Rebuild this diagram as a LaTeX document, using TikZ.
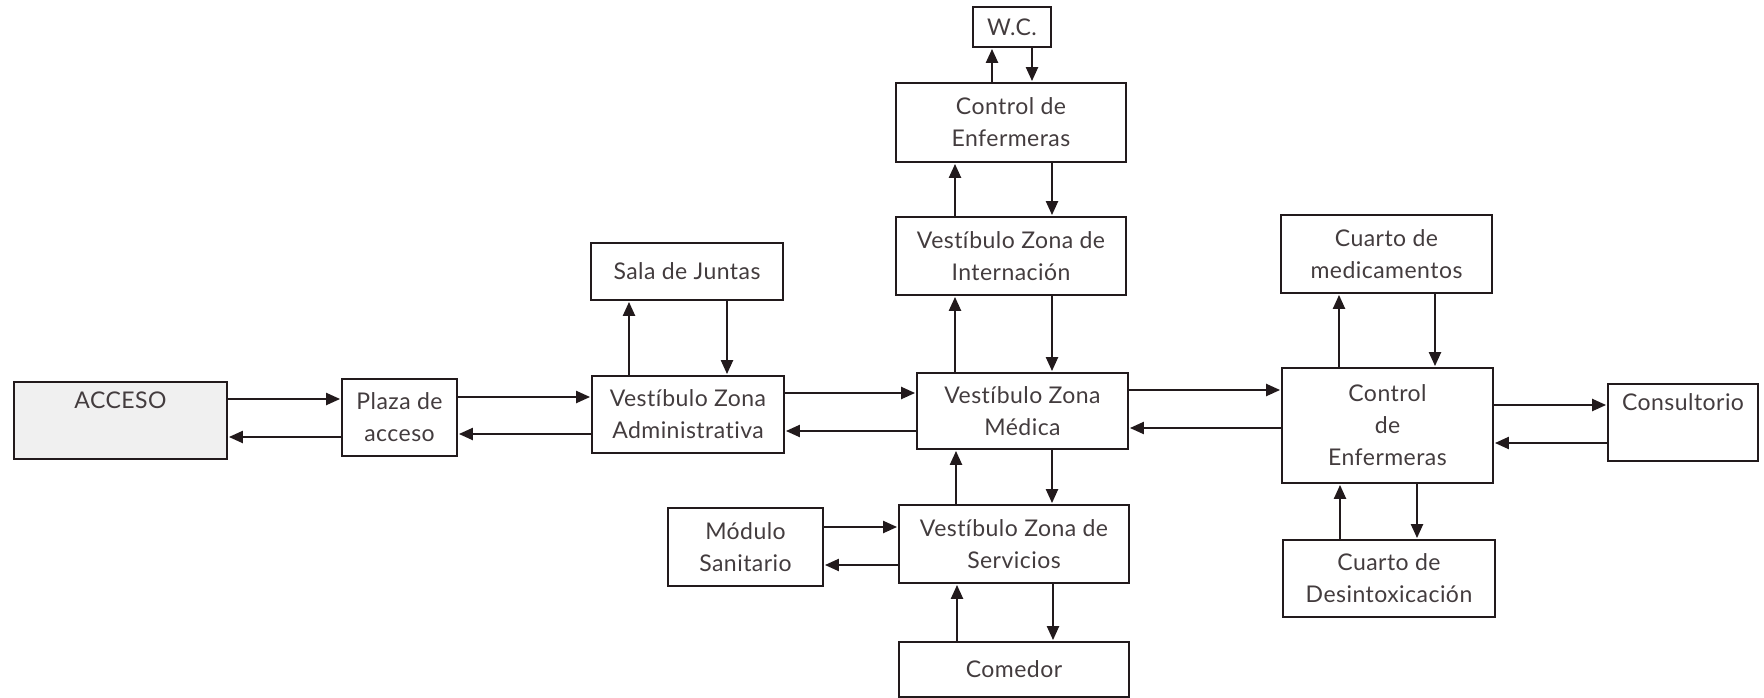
\documentclass[tikz,border=0pt]{standalone}
\usepackage{fontspec}
\setmainfont{Lato}[LetterSpace=2, Ligatures={NoCommon}]
\usetikzlibrary{arrows.meta}
\definecolor{ink}{HTML}{221A1C}
\tikzset{
  box/.style={draw=ink, line width=2.8pt, rectangle, inner sep=0pt, align=center,
    font=\fontsize{23}{32}\selectfont, text=ink!85},
  arr/.style={draw=ink, line width=2.2pt, -{Triangle[length=14pt,width=12pt]}, shorten >=0.5pt},
}
\begin{document}
\begin{tikzpicture}[x=1pt,y=-1pt]
\useasboundingbox (0,0) rectangle (1764,698);
% boxes
\node[box, fill=black!6, minimum width=213pt, minimum height=77pt] (acceso) at (120.5,420.5) {ACCESO\\\strut};
\node[box, minimum width=115pt, minimum height=77pt] (plaza) at (399.5,417.5) {Plaza de\\acceso};
\node[box, minimum width=192pt, minimum height=77pt] (vza) at (688,414.5) {Vestíbulo Zona\\Administrativa};
\node[box, minimum width=192pt, minimum height=57pt] (sala) at (687,271.5) {Sala de Juntas};
\node[box, minimum width=211pt, minimum height=76pt] (vzm) at (1022.5,411) {Vestíbulo Zona\\Médica};
\node[box, minimum width=230pt, minimum height=78pt] (vzi) at (1011,256) {Vestíbulo Zona de\\Internación};
\node[box, minimum width=230pt, minimum height=79pt] (ce1) at (1011,122.5) {Control de\\Enfermeras};
\node[box, minimum width=78pt, minimum height=40pt] (wc) at (1012,27) {W.C.};
\node[box, minimum width=230pt, minimum height=78pt] (vzs) at (1014,544) {Vestíbulo Zona de\\Servicios};
\node[box, minimum width=230pt, minimum height=55pt] (comedor) at (1014,669.5) {Comedor};
\node[box, minimum width=155pt, minimum height=78pt] (modulo) at (745.5,547) {Módulo\\Sanitario};
\node[box, minimum width=211pt, minimum height=115pt] (ce2) at (1387.5,425.5) {Control\\de\\Enfermeras};
\node[box, minimum width=211pt, minimum height=78pt] (med) at (1386.5,254) {Cuarto de\\medicamentos};
\node[box, minimum width=212pt, minimum height=77pt] (desin) at (1389,578.5) {Cuarto de\\Desintoxicación};
\node[box, minimum width=150pt, minimum height=77pt] (cons) at (1683,422.5) {Consultorio\\\strut};
% horizontal connectors
\draw[arr] (acceso.east |- 0,399) -- (plaza.west |- 0,399);
\draw[arr] (plaza.west |- 0,437) -- (acceso.east |- 0,437);
\draw[arr] (plaza.east |- 0,397) -- (vza.west |- 0,397);
\draw[arr] (vza.west |- 0,434) -- (plaza.east |- 0,434);
\draw[arr] (vza.east |- 0,393) -- (vzm.west |- 0,393);
\draw[arr] (vzm.west |- 0,431) -- (vza.east |- 0,431);
\draw[arr] (vzm.east |- 0,390) -- (ce2.west |- 0,390);
\draw[arr] (ce2.west |- 0,428) -- (vzm.east |- 0,428);
\draw[arr] (ce2.east |- 0,405) -- (cons.west |- 0,405);
\draw[arr] (cons.west |- 0,443) -- (ce2.east |- 0,443);
\draw[arr] (modulo.east |- 0,527) -- (vzs.west |- 0,527);
\draw[arr] (vzs.west |- 0,565) -- (modulo.east |- 0,565);
% vertical connectors
\draw[arr] (vza.north -| 629,0) -- (sala.south -| 629,0);
\draw[arr] (sala.south -| 727,0) -- (vza.north -| 727,0);
\draw[arr] (vzm.north -| 955,0) -- (vzi.south -| 955,0);
\draw[arr] (vzi.south -| 1052,0) -- (vzm.north -| 1052,0);
\draw[arr] (vzi.north -| 955,0) -- (ce1.south -| 955,0);
\draw[arr] (ce1.south -| 1052,0) -- (vzi.north -| 1052,0);
\draw[arr] (ce1.north -| 992,0) -- (wc.south -| 992,0);
\draw[arr] (wc.south -| 1032,0) -- (ce1.north -| 1032,0);
\draw[arr] (vzs.north -| 956,0) -- (vzm.south -| 956,0);
\draw[arr] (vzm.south -| 1052,0) -- (vzs.north -| 1052,0);
\draw[arr] (comedor.north -| 957,0) -- (vzs.south -| 957,0);
\draw[arr] (vzs.south -| 1053,0) -- (comedor.north -| 1053,0);
\draw[arr] (ce2.north -| 1339,0) -- (med.south -| 1339,0);
\draw[arr] (med.south -| 1435,0) -- (ce2.north -| 1435,0);
\draw[arr] (desin.north -| 1340,0) -- (ce2.south -| 1340,0);
\draw[arr] (ce2.south -| 1417,0) -- (desin.north -| 1417,0);
\end{tikzpicture}
\end{document}
